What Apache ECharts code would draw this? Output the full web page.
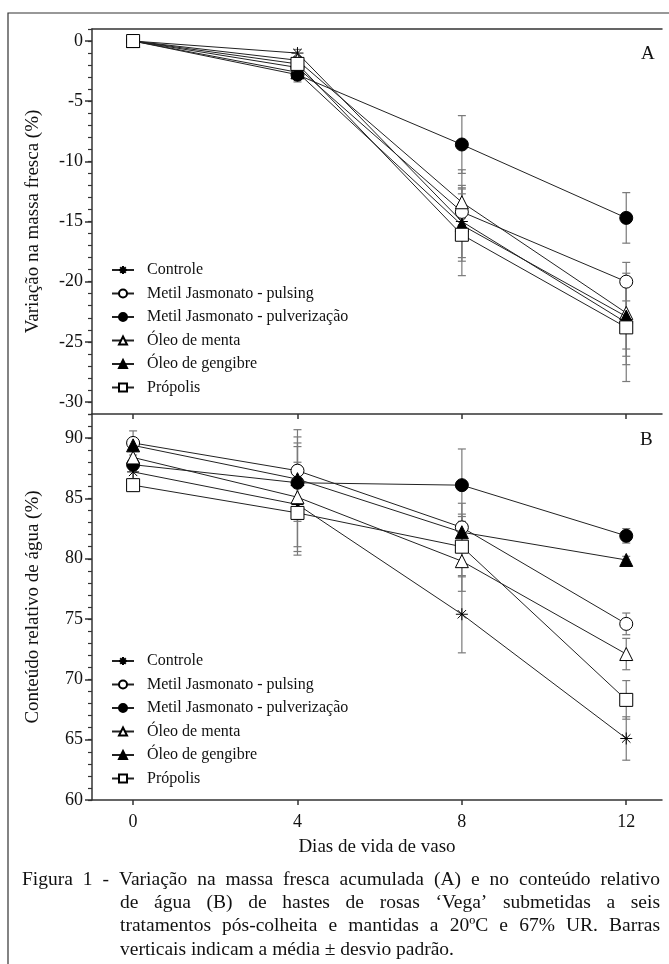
<!DOCTYPE html>
<html>
<head>
<meta charset="utf-8">
<script src="https://cdn.jsdelivr.net/npm/echarts@6/dist/echarts.min.js"></script>
<style>
  html, body { margin: 0; padding: 0; background: #fff; }
  #chart { width: 669px; height: 964px; }
</style>
</head>
<body>
<div id="chart"></div>
<script>
// dias de vida de vaso
const days = [0, 4, 8, 12];
const dayTicks = [0, 4, 8, 12];
const treatments = [
  "Controle",
  "Metil Jasmonato - pulsing",
  "Metil Jasmonato - pulverização",
  "Óleo de menta",
  "Óleo de gengibre",
  "Própolis",
];

// (A) variação na massa fresca (%)
const massaControle = [0, -1.0, -15.0, -23.4];
const massaPulsing = [0, -2.2, -14.2, -20.0];
const massaPulver = [0, -2.8, -8.6, -14.7];
const massaMenta = [0, -1.6, -13.4, -22.6];
const massaGengibre = [0, -2.6, -15.3, -22.9];
const massaPropolis = [0, -1.9, -16.1, -23.8];
// desvio padrão (A)
const sdMassaControle = [0, 0.3, 3.0, 3.5];
const sdMassaPulsing = [0, 0.5, 2.0, 1.6];
const sdMassaPulver = [0, 0.6, 2.4, 2.1];
const sdMassaMenta = [0, 0.3, 2.7, 3.0];
const sdMassaGengibre = [0, 0.6, 3.0, 3.3];
const sdMassaPropolis = [0, 0.4, 3.4, 4.5];
const massaTicks = [0, -5, -10, -15, -20, -25, -30];

// (B) conteúdo relativo de água (%)
const aguaControle = [87.2, 84.5, 75.4, 65.1];
const aguaPulsing = [89.6, 87.3, 82.6, 74.6];
const aguaPulver = [87.8, 86.3, 86.1, 81.9];
const aguaMenta = [88.4, 85.1, 79.8, 72.1];
const aguaGengibre = [89.4, 86.6, 82.2, 79.9];
const aguaPropolis = [86.1, 83.8, 81.0, 68.3];
// desvio padrão (B)
const sdAguaControle = [0.6, 3.5, 3.2, 1.8];
const sdAguaPulsing = [1.0, 3.4, 2.0, 0.9];
const sdAguaPulver = [0.5, 3.0, 3.0, 0.6];
const sdAguaMenta = [0.8, 4.5, 2.5, 1.3];
const sdAguaGengibre = [0.5, 3.5, 1.5, 0.3];
const sdAguaPropolis = [0.5, 3.5, 2.5, 1.6];
const aguaTicks = [60, 65, 70, 75, 80, 85, 90];

const massa = [massaControle, massaPulsing, massaPulver, massaMenta, massaGengibre, massaPropolis];
const sdMassa = [sdMassaControle, sdMassaPulsing, sdMassaPulver, sdMassaMenta, sdMassaGengibre, sdMassaPropolis];
const agua = [aguaControle, aguaPulsing, aguaPulver, aguaMenta, aguaGengibre, aguaPropolis];
const sdAgua = [sdAguaControle, sdAguaPulsing, sdAguaPulver, sdAguaMenta, sdAguaGengibre, sdAguaPropolis];

const SERIF = "'Liberation Serif', 'DejaVu Serif', serif";
const INK = "#111";
const AXIS = "#333";

// marcadores: asterisco, círculo aberto, círculo cheio, triângulo aberto, triângulo cheio, quadrado aberto
const asterisk = "path://M0,5L10,5M5,0L5,10M1.5,1.5L8.5,8.5M1.5,8.5L8.5,1.5";
const marks = [
  { symbol: asterisk, size: 12, fill: "#000" },
  { symbol: "circle", size: 13, fill: "#fff" },
  { symbol: "circle", size: 13, fill: "#000" },
  { symbol: "triangle", size: 13, fill: "#fff" },
  { symbol: "triangle", size: 13, fill: "#000" },
  { symbol: "rect", size: 13, fill: "#fff" },
];

function lineSeries(values, panel) {
  return values.map((vals, i) => ({
    name: treatments[i],
    type: "line",
    xAxisIndex: panel === 0 ? 0 : 2,
    yAxisIndex: panel === 0 ? 0 : 2,
    data: days.map((d, k) => [d, vals[k]]),
    symbol: marks[i].symbol,
    symbolSize: marks[i].size,
    symbolKeepAspect: true,
    lineStyle: { color: "#222", width: 1 },
    itemStyle: { color: marks[i].fill, borderColor: "#000", borderWidth: 1 },
    emphasis: { disabled: true },
    z: 3 + i,
  }));
}

function errorRender(params, api) {
  const x = api.value(0), m = api.value(1), s = api.value(2);
  if (!s) return;
  const hi = api.coord([x, m + s]);
  const lo = api.coord([x, m - s]);
  const w = 4;
  const st = { stroke: "#7a7a7a", lineWidth: 1.2 };
  return {
    type: "group",
    children: [
      { type: "line", shape: { x1: hi[0], y1: hi[1], x2: lo[0], y2: lo[1] }, style: st },
      { type: "line", shape: { x1: hi[0] - w, y1: hi[1], x2: hi[0] + w, y2: hi[1] }, style: st },
      { type: "line", shape: { x1: lo[0] - w, y1: lo[1], x2: lo[0] + w, y2: lo[1] }, style: st },
    ],
  };
}

function errorSeries(values, sds, panel) {
  const data = [];
  values.forEach((vals, i) => {
    days.forEach((d, k) => data.push([d, vals[k], sds[i][k]]));
  });
  return {
    name: "erro" + panel,
    type: "custom",
    xAxisIndex: panel === 0 ? 0 : 2,
    yAxisIndex: panel === 0 ? 0 : 2,
    renderItem: errorRender,
    data,
    silent: true,
    z: 1,
  };
}

const grids = [
  { left: 92, top: 29, width: 570, height: 385 },
  { left: 92, top: 414, width: 570, height: 386 },
];

const xBase = { type: "value", min: -1, max: 12.87, splitLine: { show: false } };

const xAxes = [
  // A, inferior (linha divisória)
  Object.assign({}, xBase, {
    gridIndex: 0, position: "bottom",
    axisLine: { onZero: false, lineStyle: { color: AXIS, width: 1.5 } },
    axisTick: { customValues: dayTicks, inside: false, length: 5, lineStyle: { color: AXIS, width: 1.5 } },
    axisLabel: { show: false },
  }),
  // A, superior (moldura)
  Object.assign({}, xBase, {
    gridIndex: 0, position: "top",
    axisLine: { onZero: false, lineStyle: { color: AXIS, width: 1.5 } },
    axisTick: { show: false }, axisLabel: { show: false },
  }),
  // B, inferior
  Object.assign({}, xBase, {
    gridIndex: 1, position: "bottom",
    name: "Dias de vida de vaso", nameLocation: "middle", nameGap: 38,
    nameTextStyle: { fontFamily: SERIF, fontSize: 19, color: INK },
    axisLine: { onZero: false, lineStyle: { color: AXIS, width: 1.5 } },
    axisTick: { customValues: dayTicks, length: 5, lineStyle: { color: AXIS, width: 1.5 } },
    axisLabel: { customValues: dayTicks, margin: 13, fontFamily: SERIF, fontSize: 18, color: INK },
  }),
];

function yMain(grid, min, max, ticks, name) {
  return {
    type: "value", gridIndex: grid, min, max, position: "left",
    name, nameLocation: "middle", nameGap: 49,
    nameTextStyle: { fontFamily: SERIF, fontSize: 19, color: INK },
    splitLine: { show: false },
    axisLine: { show: true, onZero: false, lineStyle: { color: AXIS, width: 1.5 } },
    axisTick: { customValues: ticks, length: 7, lineStyle: { color: AXIS, width: 1.5 } },
    axisLabel: { customValues: ticks, margin: 9, fontFamily: SERIF, fontSize: 18, color: INK },
  };
}
function yMinor(grid, min, max) {
  return {
    type: "value", gridIndex: grid, min, max, interval: 1, position: "left",
    splitLine: { show: false },
    axisLine: { show: false, onZero: false },
    axisTick: { length: 4, lineStyle: { color: AXIS, width: 1.2 } },
    axisLabel: { show: false },
  };
}

const yAxes = [
  yMain(0, -31, 1, massaTicks, "Variação na massa fresca (%)"),
  yMinor(0, -31, 1),
  yMain(1, 60, 92, aguaTicks, "Conteúdo relativo de água (%)"),
  yMinor(1, 60, 92),
];

function legend(top) {
  return {
    data: treatments, orient: "vertical", left: 106, top,
    itemWidth: 22, itemHeight: 10, itemGap: 7.5,
    selectedMode: false,
    textStyle: { fontFamily: SERIF, fontSize: 16, color: INK, lineHeight: 16, padding: [0, 0, 0, 8] },
  };
}

// legenda da figura, justificada
const captionFont = "19.5px " + SERIF;
const captionLines = [
  { text: "Figura 1 - Variação na massa fresca acumulada (A) e no conteúdo relativo", x0: 22, x1: 660, y: 880, justify: true },
  { text: "de água (B) de hastes de rosas ‘Vega’ submetidas a seis", x0: 120, x1: 660, y: 903, justify: true },
  { text: "tratamentos pós-colheita e mantidas a 20ºC e 67% UR. Barras", x0: 120, x1: 660, y: 926, justify: true },
  { text: "verticais indicam a média ± desvio padrão.", x0: 120, x1: 660, y: 950, justify: false },
];
const ctx = document.createElement("canvas").getContext("2d");
ctx.font = captionFont;
const caption = [];
captionLines.forEach((ln) => {
  if (!ln.justify) {
    caption.push({ type: "text", x: ln.x0, y: ln.y, style: { text: ln.text, font: captionFont, fill: INK, textVerticalAlign: "middle" } });
    return;
  }
  const words = ln.text.split(" ");
  const widths = words.map((w) => ctx.measureText(w).width);
  const total = widths.reduce((a, b) => a + b, 0);
  const gap = (ln.x1 - ln.x0 - total) / (words.length - 1);
  let x = ln.x0;
  words.forEach((w, k) => {
    caption.push({ type: "text", x, y: ln.y, style: { text: w, font: captionFont, fill: INK, textVerticalAlign: "middle" } });
    x += widths[k] + gap;
  });
});

const option = {
  backgroundColor: "#fff",
  animation: false,
  grid: grids,
  xAxis: xAxes,
  yAxis: yAxes,
  legend: [legend(257), legend(648)],
  series: [
    errorSeries(massa, sdMassa, 0),
    errorSeries(agua, sdAgua, 1),
    ...lineSeries(massa, 0),
    ...lineSeries(agua, 1),
  ],
  graphic: [
    { type: "rect", shape: { x: 8, y: 13, width: 700, height: 1000 }, style: { fill: "none", stroke: "#333", lineWidth: 1.2 }, silent: true },
    { type: "text", x: 641, y: 54, style: { text: "A", font: "19px " + SERIF, fill: INK, textVerticalAlign: "middle" } },
    { type: "text", x: 640, y: 440, style: { text: "B", font: "19px " + SERIF, fill: INK, textVerticalAlign: "middle" } },
    ...caption,
  ],
};

const chart = echarts.init(document.getElementById("chart"), null, { renderer: "canvas" });
chart.setOption(option);
</script>
</body>
</html>
